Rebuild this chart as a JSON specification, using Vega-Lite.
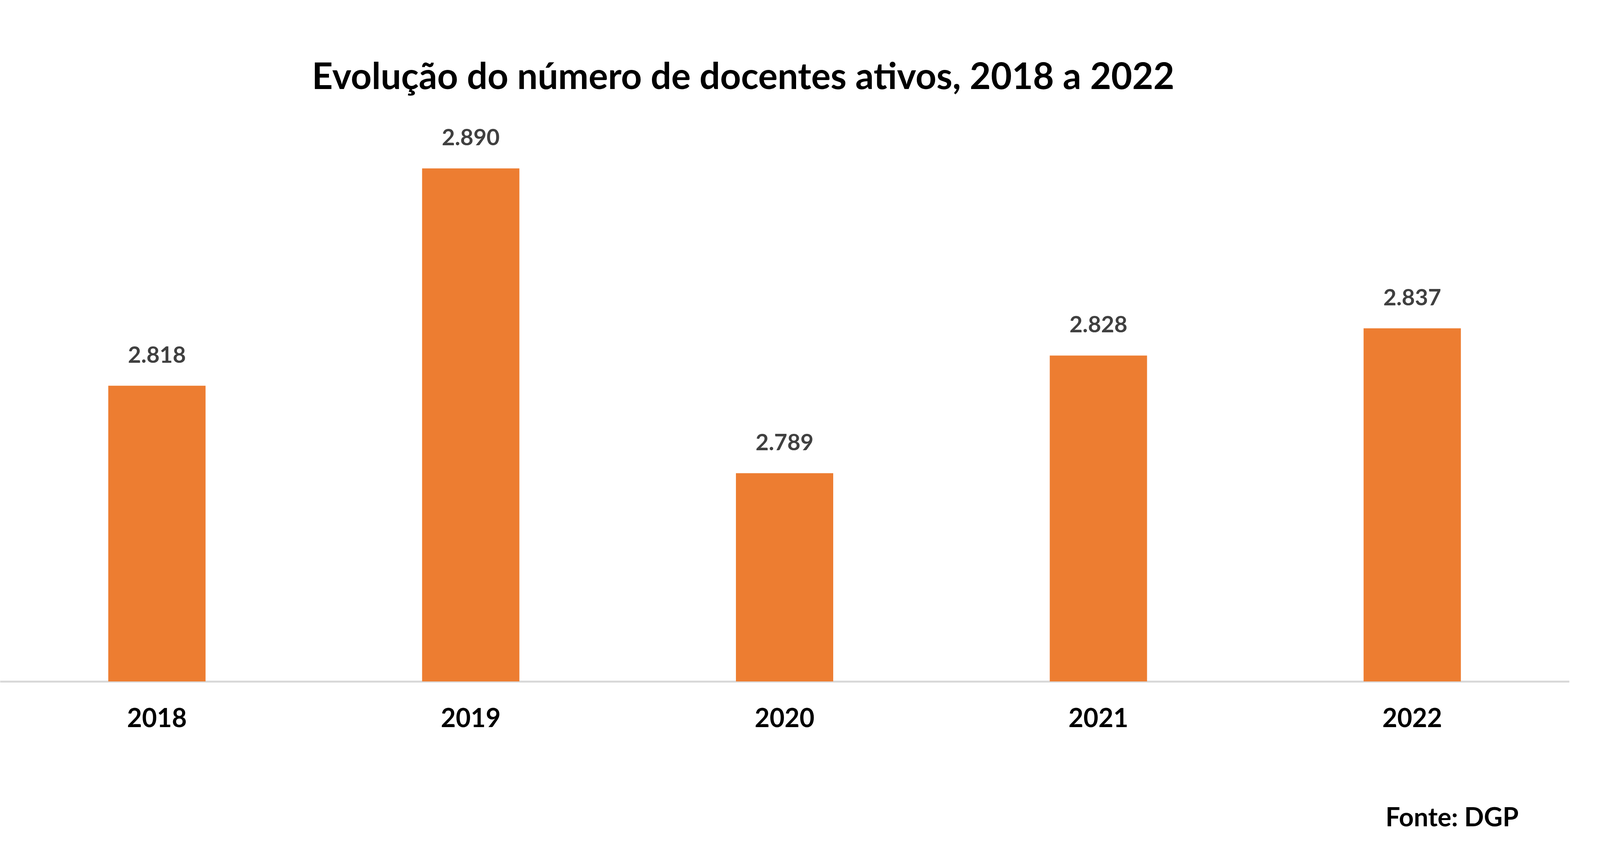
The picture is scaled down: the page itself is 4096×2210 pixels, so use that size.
{
  "$schema": "https://vega.github.io/schema/vega-lite/v6.json",
  "autosize": {"type": "none"},
  "width": 4017,
  "height": 1391,
  "padding": {"left": 0, "top": 354, "right": 79, "bottom": 465},
  "background": "white",
  "config": {
    "view": {"stroke": null},
    "font": "Lato",
    "locale": {"number": {"decimal": ",", "thousands": ".", "grouping": [3], "currency": ["", " €"]}}
  },
  "title": {
    "text": "Evolução do número de docentes ativos, 2018 a 2022",
    "anchor": "middle",
    "frame": "group",
    "dx": -106,
    "offset": 5,
    "baseline": "alphabetic",
    "fontSize": 93,
    "fontWeight": "bold",
    "color": "#000000",
    "font": "Lato"
  },
  "data": {
    "values": [
      {"ano": "2018", "docentes": 2818},
      {"ano": "2019", "docentes": 2890},
      {"ano": "2020", "docentes": 2789},
      {"ano": "2021", "docentes": 2828},
      {"ano": "2022", "docentes": 2837}
    ]
  },
  "encoding": {
    "x": {
      "field": "ano",
      "type": "nominal",
      "sort": null,
      "scale": {"paddingInner": 0.69, "paddingOuter": 0.345},
      "axis": {
        "title": "Fonte: DGP",
        "titleX": 3887,
        "titleY": 350,
        "titleAlign": "right",
        "titleAnchor": null,
        "titleBaseline": "middle",
        "titleFont": "Lato",
        "titleFontSize": 66,
        "titleFontWeight": "bold",
        "titleColor": "#000000",
        "labelAngle": 0,
        "labelFont": "Lato",
        "labelFontSize": 66,
        "labelFontWeight": "bold",
        "labelColor": "#000000",
        "labelBaseline": "middle",
        "labelPadding": 96,
        "ticks": false,
        "tickSize": 0,
        "domainColor": "#d9d9d9",
        "domainWidth": 5,
        "zindex": 0
      }
    },
    "y": {
      "field": "docentes",
      "type": "quantitative",
      "scale": {"domain": [2720, 2900], "zero": false, "nice": false},
      "axis": null
    }
  },
  "layer": [
    {
      "mark": {"type": "bar", "color": "#ED7D31"},
      "encoding": {"y2": {"datum": 2720}}
    },
    {
      "mark": {
        "type": "text",
        "dy": -76,
        "baseline": "middle",
        "align": "center",
        "font": "Lato",
        "fontSize": 58,
        "fontWeight": "bold",
        "color": "#404040"
      },
      "encoding": {
        "text": {"field": "docentes", "type": "quantitative", "format": ",d"}
      }
    }
  ]
}
